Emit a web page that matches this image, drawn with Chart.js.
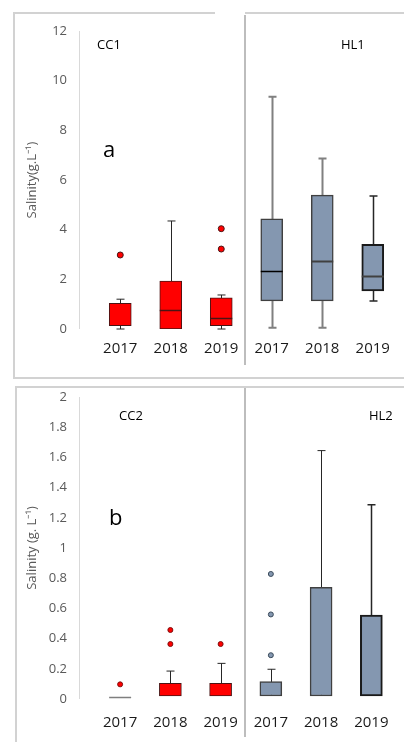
<!DOCTYPE html>
<html>
<head>
<meta charset="utf-8">
<script src="https://cdn.jsdelivr.net/npm/chart.js@4.4.1/dist/chart.umd.min.js"></script>
<style>
    body { margin: 0; background: #fff; width: 404px; height: 742px; overflow: hidden; font-family: "Open Sans", sans-serif; }
    .wrap { position: absolute; left: 0; width: 404px; }
    .ln { position: absolute; background: #d2d2d2; }
    .dv { position: absolute; background: #bdbdbd; width: 2px; }
    .lab { position: absolute; line-height: 1; color: #000; white-space: nowrap; }
</style>
</head>
<body>
<!-- frame of panel a -->
<div class="ln" style="left:13px;top:12px;width:202px;height:2px"></div>
<div class="ln" style="left:245px;top:12px;width:159px;height:2px"></div>
<div class="ln" style="left:13px;top:12px;width:2px;height:366px"></div>
<div class="ln" style="left:13px;top:377px;width:391px;height:2px"></div>
<!-- frame of panel b -->
<div class="ln" style="left:15px;top:386px;width:389px;height:2px"></div>
<div class="ln" style="left:15px;top:386px;width:2px;height:356px"></div>

<div class="wrap" style="top:0;height:370px"><canvas id="chartA"></canvas></div>
<div class="wrap" style="top:370px;height:372px"><canvas id="chartB"></canvas></div>

<div class="dv" style="left:244px;top:15px;height:350px"></div>
<div class="dv" style="left:244px;top:388px;height:349px"></div>

<div class="lab" style="left:97px;top:38px;font-size:13px">CC1</div>
<div class="lab" style="left:341px;top:38px;font-size:13px">HL1</div>
<div class="lab" style="left:103px;top:137px;font-size:22px">a</div>
<div class="lab" style="left:119px;top:409px;font-size:13px">CC2</div>
<div class="lab" style="left:369px;top:409px;font-size:13px">HL2</div>
<div class="lab" style="left:109px;top:505px;font-size:22px">b</div>

<script>
    // categories (CC x3, then HL x3)
    var years = ['2017', '2018', '2019', '2017', '2018', '2019'];

    // panel a : CC1 / HL1
    var aQ1  = [0.13, 0, 0.13, 1.13, 1.13, 1.53];
    var aQ3  = [1.03, 1.93, 1.26, 4.44, 5.39, 3.41];
    var aMed = [null, 0.77, 0.45, 2.32, 2.75, 2.15];
    var aMin = [0, 0, 0, 0.05, 0.05, 1.13];
    var aMax = [1.2, 4.35, 1.37, 9.35, 6.87, 5.36];
    var aOut1 = [2.98, null, 4.04, null, null, null];
    var aOut2 = [null, null, 3.22, null, null, null];
    var aTicks = [0, 2, 4, 6, 8, 10, 12];

    // panel b : CC2 / HL2
    var bQ1  = [null, 0.02, 0.02, 0.02, 0.02, 0.02];
    var bQ3  = [null, 0.104, 0.104, 0.115, 0.74, 0.556];
    var bMed = [0.012, null, null, null, null, null];
    var bMin = [null, null, null, null, null, null];
    var bMax = [null, 0.185, 0.236, 0.197, 1.645, 1.287];
    var bOut1 = [0.097, 0.457, 0.364, 0.828, null, null];
    var bOut2 = [null, 0.364, null, 0.56, null, null];
    var bOut3 = [null, null, null, 0.29, null, null];
    var bTicks = [0, 0.2, 0.4, 0.6, 0.8, 1, 1.2, 1.4, 1.6, 1.8, 2];

    var RED = '#ff0000', RED_EDGE = '#4a1414';
    var BLUE = '#8497b0', BLUE_EDGE = '#404040';
    var fill = [RED, RED, RED, BLUE, BLUE, BLUE];

    function boxPlugin(med, lo, hi, q1, q3, st) {
        return {
            id: 'boxParts',
            beforeDatasetsDraw: function(chart) {
                var ctx = chart.ctx, x = chart.scales.x, y = chart.scales.y;
                ctx.save();
                for (var i = 0; i < years.length; i++) {
                    var cx = Math.round(x.getPixelForValue(i)) + 0.5;
                    var top = hi[i] != null ? hi[i] : q3[i];
                    var bot = lo[i] != null ? lo[i] : q1[i];
                    if (top == null || bot == null) continue;
                    ctx.strokeStyle = st.whisk[i];
                    ctx.lineWidth = st.whiskW[i];
                    ctx.beginPath();
                    ctx.moveTo(cx, y.getPixelForValue(bot));
                    ctx.lineTo(cx, y.getPixelForValue(top));
                    if (hi[i] != null) {
                        ctx.moveTo(cx - 4, y.getPixelForValue(hi[i]));
                        ctx.lineTo(cx + 4, y.getPixelForValue(hi[i]));
                    }
                    if (lo[i] != null && lo[i] < q1[i]) {
                        ctx.moveTo(cx - 4, y.getPixelForValue(lo[i]));
                        ctx.lineTo(cx + 4, y.getPixelForValue(lo[i]));
                    }
                    ctx.stroke();
                }
                ctx.restore();
            },
            afterDatasetsDraw: function(chart) {
                var ctx = chart.ctx, x = chart.scales.x, y = chart.scales.y;
                ctx.save();
                for (var i = 0; i < years.length; i++) {
                    if (med[i] == null) continue;
                    var cx = x.getPixelForValue(i), my = Math.round(y.getPixelForValue(med[i])) + 0.5;
                    ctx.strokeStyle = st.med[i];
                    ctx.lineWidth = st.medW[i];
                    ctx.beginPath();
                    ctx.moveTo(cx - 11, my);
                    ctx.lineTo(cx + 11, my);
                    ctx.stroke();
                }
                // light y axis line, set off from the plot
                ctx.strokeStyle = '#d9d9d9';
                ctx.lineWidth = 1;
                ctx.beginPath();
                ctx.moveTo(chart.chartArea.left - 15.5, y.getPixelForValue(y.max));
                ctx.lineTo(chart.chartArea.left - 15.5, y.getPixelForValue(0));
                ctx.stroke();
                ctx.restore();
            }
        };
    }

    function makePanel(id, q1, q3, med, lo, hi, outs, ticks, st, opts) {
        var datasets = [{
            type: 'bar',
            data: q1.map(function(v, i) { return v == null ? null : [v, q3[i]]; }),
            backgroundColor: fill,
            borderColor: st.edge,
            borderWidth: st.edgeW,
            borderSkipped: false,
            barThickness: 22,
            order: 2
        }];
        outs.forEach(function(o) {
            datasets.push({
                type: 'line',
                data: o,
                showLine: false,
                pointRadius: st.ptR,
                pointBackgroundColor: fill,
                pointBorderColor: st.ptEdge,
                pointBorderWidth: 1,
                order: 1
            });
        });
        return new Chart(document.getElementById(id), {
            type: 'bar',
            data: { labels: years, datasets: datasets },
            plugins: [boxPlugin(med, lo, hi, q1, q3, st)],
            options: {
                responsive: true,
                maintainAspectRatio: false,
                animation: false,
                layout: { padding: { top: opts.top, right: 6, bottom: 0, left: 0 } },
                plugins: { legend: { display: false }, tooltip: { enabled: false } },
                scales: {
                    x: {
                        grid: { display: false, drawTicks: false },
                        border: { display: false },
                        ticks: { padding: opts.xPad, color: '#1a1a1a', font: { family: 'Open Sans', size: 15 } },
                        afterFit: function(s) { s.height = opts.xH; }
                    },
                    y: {
                        min: 0,
                        max: ticks[ticks.length - 1],
                        grid: { display: false, drawTicks: false },
                        border: { display: false },
                        afterBuildTicks: function(s) { s.ticks = ticks.map(function(v) { return { value: v }; }); },
                        ticks: {
                            padding: 28, color: '#595959', font: { family: 'Open Sans', size: 13 },
                            callback: function(v) { return String(Math.round(v * 10) / 10); }
                        },
                        title: {
                            display: true,
                            text: opts.title,
                            color: '#595959',
                            padding: { top: 24, bottom: 0 },
                            font: { family: 'Open Sans', size: 13 }
                        },
                        afterFit: function(s) {
                            s.width = 95;
                            s.paddingTop = 8;
                            s.paddingBottom = 8;
                        }
                    }
                }
            }
        });
    }

    makePanel('chartA', aQ1, aQ3, aMed, aMin, aMax, [aOut1, aOut2], aTicks, {
        edge: [RED_EDGE, RED_EDGE, RED_EDGE, BLUE_EDGE, BLUE_EDGE, '#1a1a1a'],
        edgeW: [1, 1, 1, 1.5, 1.5, 2],
        whisk: ['#262626', '#262626', '#262626', '#808080', '#808080', '#262626'],
        whiskW: [1, 1, 1, 2, 2, 1.5],
        med: [RED_EDGE, RED_EDGE, RED_EDGE, '#000', '#404040', '#404040'],
        medW: [1, 1.5, 1.5, 1.5, 2, 2],
        ptR: 3,
        ptEdge: [RED_EDGE, RED_EDGE, RED_EDGE, BLUE_EDGE, BLUE_EDGE, BLUE_EDGE]
    }, { top: 31, xH: 41, xPad: 11, title: 'Salinity(g.L⁻¹)' });

    makePanel('chartB', bQ1, bQ3, bMed, bMin, bMax, [bOut1, bOut2, bOut3], bTicks, {
        edge: [RED_EDGE, RED_EDGE, RED_EDGE, BLUE_EDGE, BLUE_EDGE, '#1a1a1a'],
        edgeW: [1, 1, 1, 1.5, 1.5, 2],
        whisk: ['#262626', '#262626', '#262626', '#262626', '#262626', '#262626'],
        whiskW: [1, 1, 1, 1, 1, 1.5],
        med: ['#7f7f7f', RED_EDGE, RED_EDGE, '#404040', '#404040', '#404040'],
        medW: [1.5, 1, 1, 1, 1, 1],
        ptR: 2.5,
        ptEdge: ['#7f1010', '#7f1010', '#7f1010', '#3a4a5a', '#3a4a5a', '#3a4a5a']
    }, { top: 27, xH: 43, xPad: 15, title: 'Salinity (g. L⁻¹)' });
</script>
</body>
</html>
